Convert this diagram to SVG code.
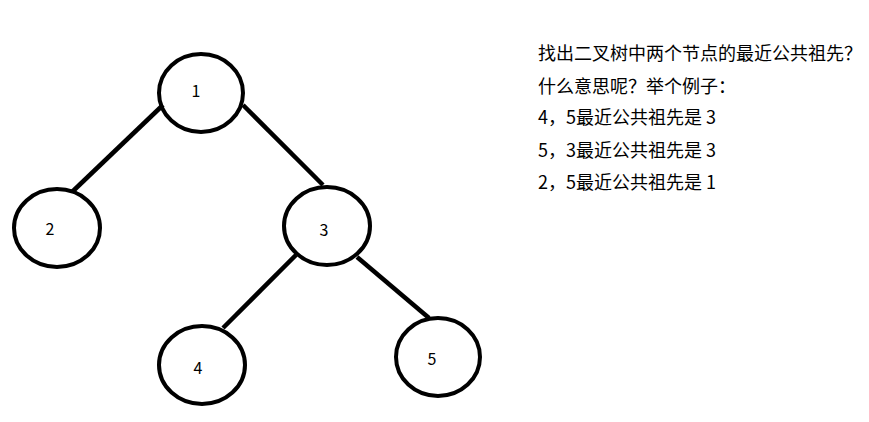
<svg xmlns="http://www.w3.org/2000/svg" width="869" height="422" viewBox="0 0 869 422">
<style>
.n{fill:none;stroke:#000;stroke-width:4}
.e{stroke:#000;stroke-width:4.5;stroke-linecap:butt}
.l{font-family:"Noto Sans CJK SC","Noto Sans",sans-serif;font-size:16px;fill:#000;text-anchor:middle}
.t{font-family:"Noto Sans CJK SC","Noto Sans",sans-serif;font-size:18px;fill:#000}
</style>
<rect width="869" height="422" fill="#fff"/>
<g id="edges">
<line class="e" x1="163" y1="105" x2="72" y2="192"/>
<line class="e" x1="243" y1="105" x2="323" y2="185"/>
<line class="e" x1="296" y1="255" x2="223" y2="328"/>
<line class="e" x1="357" y1="257" x2="429" y2="318"/>
</g>
<g id="node1"><ellipse class="n" cx="201" cy="93" rx="42" ry="39"/><text class="l" x="196" y="97">1</text></g>
<g id="node2"><ellipse class="n" cx="57" cy="228" rx="43" ry="39"/><text class="l" x="50" y="235">2</text></g>
<g id="node3"><ellipse class="n" cx="327" cy="226" rx="43" ry="39"/><text class="l" x="324" y="236">3</text></g>
<g id="node4"><ellipse class="n" cx="202" cy="365" rx="43" ry="39"/><text class="l" x="198" y="374">4</text></g>
<g id="node5"><ellipse class="n" cx="438" cy="357" rx="42" ry="39"/><text class="l" x="432" y="365">5</text></g>
<g id="text">
<text class="t" x="538" y="60">找出二叉树中两个节点的最近公共祖先？</text>
<text class="t" x="538" y="93">什么意思呢？举个例子：</text>
<text class="t" x="538" y="124">4，5最近公共祖先是 3</text>
<text class="t" x="538" y="157">5，3最近公共祖先是 3</text>
<text class="t" x="538" y="189">2，5最近公共祖先是 1</text>
</g>
</svg>
